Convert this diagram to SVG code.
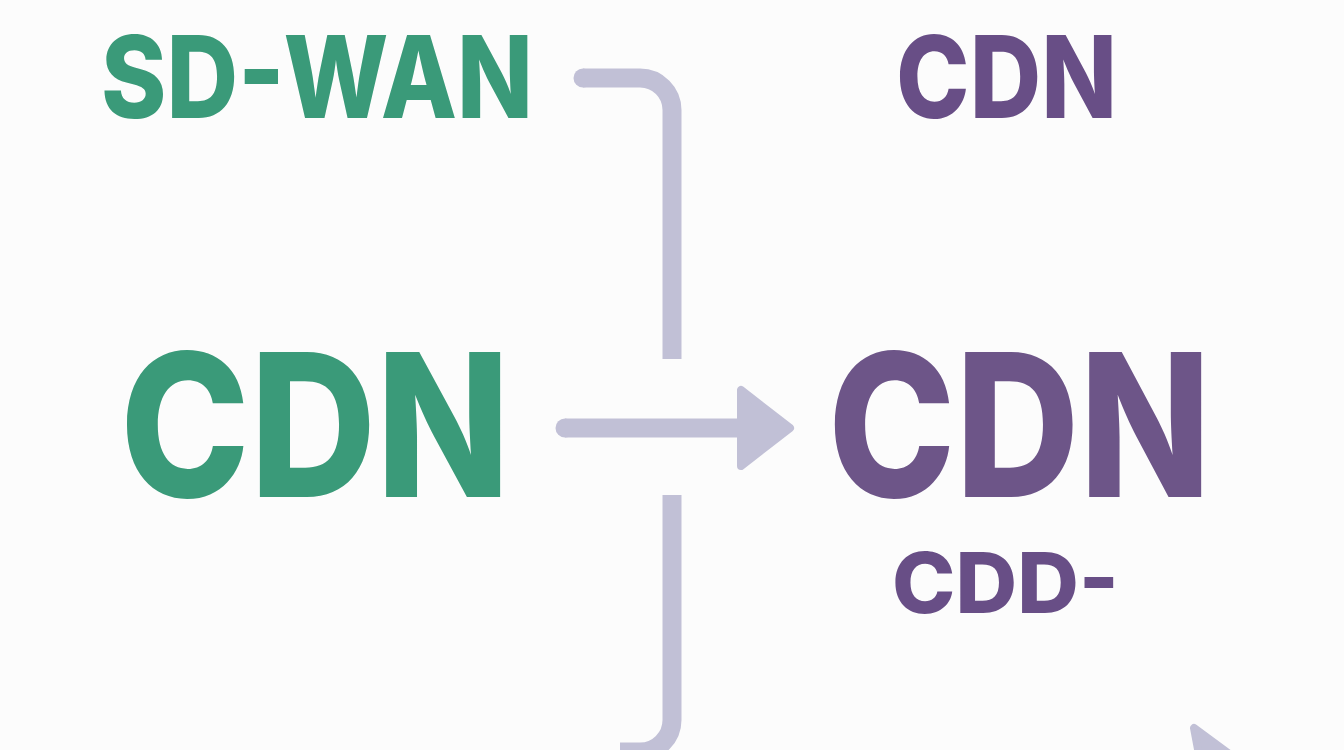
<svg xmlns="http://www.w3.org/2000/svg" width="1344" height="750" viewBox="0 0 1344 750">
  <defs>
    <style>
      .t { font-family: Inter, "Open Sans", "Liberation Sans", sans-serif; font-weight: 800; }
      .g { fill: #3a9a79; }
      .p { fill: #684e86; }
      .pl { fill: #6d5588; }
      .conn { fill: none; stroke: #c1c0d6; stroke-width: 19; stroke-linecap: butt; stroke-linejoin: round; }
      .head { fill: #c1c0d6; stroke: #c1c0d6; stroke-width: 8; stroke-linejoin: round; }
      .dot { fill: #c1c0d6; }
    </style>
  </defs>
  <rect x="0" y="0" width="1344" height="750" fill="#fcfcfc"/>

  <g id="connectors">
    <circle class="dot" cx="583" cy="78" r="9.5"/>
    <path class="conn" d="M583,78 H640 A32,32 0 0 1 672,110 V359"/>
    <circle class="dot" cx="565" cy="428" r="9.5"/>
    <path class="conn" d="M565,428 H750"/>
    <polygon class="head" points="790,428 741,390 741,466"/>
    <path class="conn" d="M672,495 V720 A32,32 0 0 1 640,752 H620"/>
    <polygon class="head" points="1194,728 1200,760 1232,756"/>
  </g>

  <g id="node-sdwan">
    <text class="t g" x="101" y="118" font-size="114" textLength="432" lengthAdjust="spacingAndGlyphs">SD-WAN</text>
  </g>
  <g id="node-cdn-top">
    <text class="t p" x="896" y="118" font-size="114" textLength="221" lengthAdjust="spacingAndGlyphs">CDN</text>
  </g>
  <g id="node-cdn-left">
    <text class="t g" x="120" y="497" font-size="199" textLength="390" lengthAdjust="spacingAndGlyphs">CDN</text>
  </g>
  <g id="node-cdn-right">
    <text class="t pl" x="828" y="497" font-size="199" textLength="383" lengthAdjust="spacingAndGlyphs">CDN</text>
  </g>
  <g id="node-cdd">
    <text class="t p" x="892" y="613" font-size="84" textLength="227" lengthAdjust="spacingAndGlyphs">CDD-</text>
  </g>
</svg>
